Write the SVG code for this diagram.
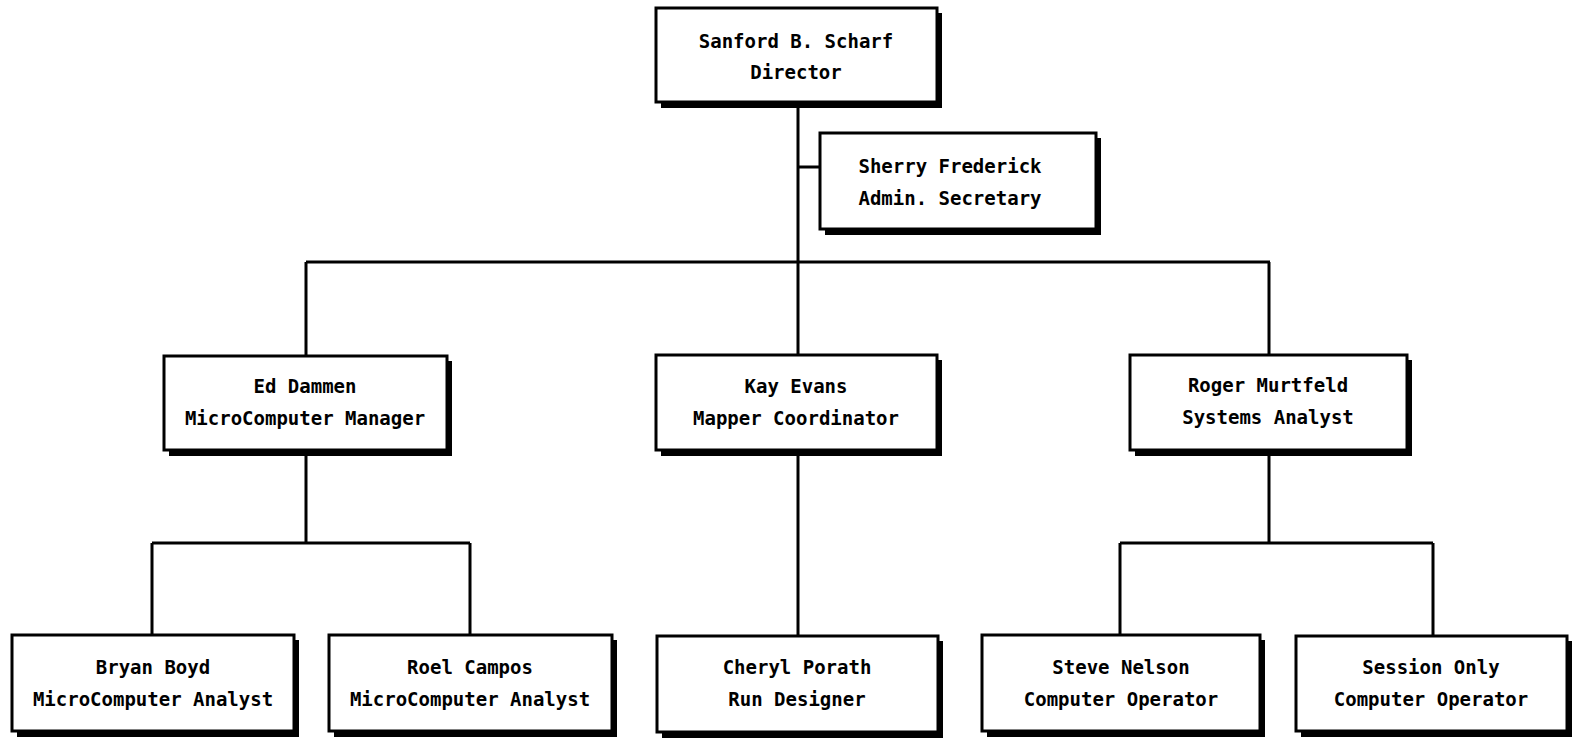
<svg xmlns="http://www.w3.org/2000/svg" width="1575" height="738" viewBox="0 0 1575 738">
<style>
.sh{fill:#000}
.bx{fill:#fff;stroke:#000;stroke-width:3}
.t{font-family:"DejaVu Sans Mono","Liberation Mono",monospace;font-weight:bold;font-size:19px;fill:#000;text-anchor:middle}
.c{fill:none;stroke:#000;stroke-width:3}
</style>
<rect width="1575" height="738" fill="#fff"/>
<g id="connectors">
<path class="c" d="M798 102V355M798 167H820M306 262H1270M306 262V356M1269 262V355"/>
<path class="c" d="M306 450V543M152 543H470M152 543V635M470 543V635"/>
<path class="c" d="M798 450V636"/>
<path class="c" d="M1269 450V543M1120 543H1433M1120 543V635M1433 543V636"/>
</g>
<g id="director">
<rect class="sh" x="661" y="13" width="281" height="95"/>
<rect class="bx" x="656" y="8" width="281" height="94"/>
<text class="t" x="796" y="48">Sanford B. Scharf</text>
<text class="t" x="796" y="79">Director</text>
</g>
<g id="sherry">
<rect class="sh" x="825" y="138" width="276" height="97"/>
<rect class="bx" x="820" y="133" width="276" height="96"/>
<text class="t" x="950" y="173">Sherry Frederick</text>
<text class="t" x="950" y="205">Admin. Secretary</text>
</g>
<g id="ed">
<rect class="sh" x="169" y="361" width="283" height="95"/>
<rect class="bx" x="164" y="356" width="283" height="94"/>
<text class="t" x="305" y="393">Ed Dammen</text>
<text class="t" x="305" y="425">MicroComputer Manager</text>
</g>
<g id="kay">
<rect class="sh" x="661" y="360" width="281" height="96"/>
<rect class="bx" x="656" y="355" width="281" height="95"/>
<text class="t" x="796" y="393">Kay Evans</text>
<text class="t" x="796" y="425">Mapper Coordinator</text>
</g>
<g id="roger">
<rect class="sh" x="1135" y="360" width="277" height="96"/>
<rect class="bx" x="1130" y="355" width="277" height="95"/>
<text class="t" x="1268" y="392">Roger Murtfeld</text>
<text class="t" x="1268" y="424">Systems Analyst</text>
</g>
<g id="bryan">
<rect class="sh" x="17" y="640" width="282" height="97"/>
<rect class="bx" x="12" y="635" width="282" height="96"/>
<text class="t" x="153" y="674">Bryan Boyd</text>
<text class="t" x="153" y="706">MicroComputer Analyst</text>
</g>
<g id="roel">
<rect class="sh" x="334" y="640" width="283" height="97"/>
<rect class="bx" x="329" y="635" width="283" height="96"/>
<text class="t" x="470" y="674">Roel Campos</text>
<text class="t" x="470" y="706">MicroComputer Analyst</text>
</g>
<g id="cheryl">
<rect class="sh" x="662" y="641" width="281" height="97"/>
<rect class="bx" x="657" y="636" width="281" height="96"/>
<text class="t" x="797" y="674">Cheryl Porath</text>
<text class="t" x="797" y="706">Run Designer</text>
</g>
<g id="steve">
<rect class="sh" x="987" y="640" width="278" height="97"/>
<rect class="bx" x="982" y="635" width="278" height="96"/>
<text class="t" x="1121" y="674">Steve Nelson</text>
<text class="t" x="1121" y="706">Computer Operator</text>
</g>
<g id="session">
<rect class="sh" x="1301" y="641" width="271" height="96"/>
<rect class="bx" x="1296" y="636" width="271" height="95"/>
<text class="t" x="1431" y="674">Session Only</text>
<text class="t" x="1431" y="706">Computer Operator</text>
</g>
</svg>
